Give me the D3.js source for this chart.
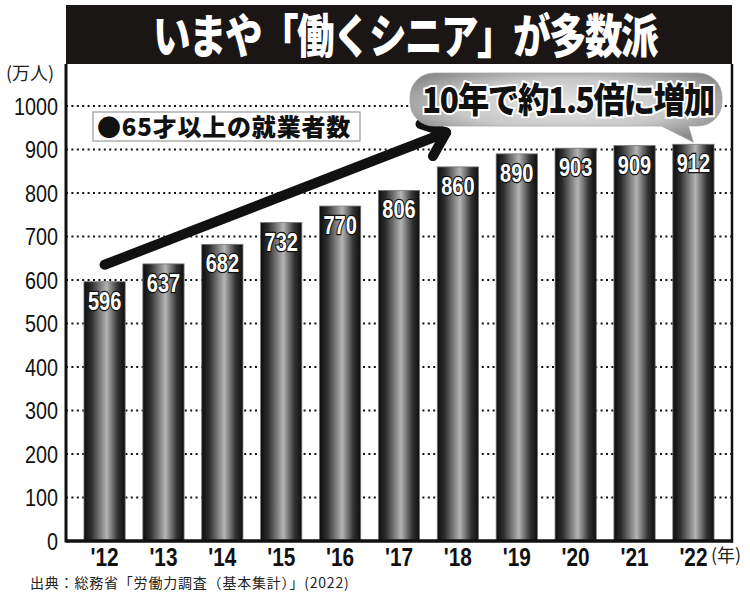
<!DOCTYPE html>
<html><head><meta charset="utf-8">
<script src="https://cdn.jsdelivr.net/npm/d3@7"></script>
<style>
html,body{margin:0;padding:0;background:#fff;}
svg{display:block;}
</style></head>
<body>
<script>
const title = "いまや「働くシニア」が多数派";
const legendLabel = "●65才以上の就業者数";
const calloutText = "10年で約1.5倍に増加";
const unitLabel = "(万人)";
const yearUnit = "(年)";
const sourceText = "出典：総務省「労働力調査（基本集計）」(2022)";
const years = ["'12","'13","'14","'15","'16","'17","'18","'19","'20","'21","'22"];
const workers = [596,637,682,732,770,806,860,890,903,909,912];
const yTicks = [0,100,200,300,400,500,600,700,800,900,1000];

(function(){
const W = 750, H = 594;
const pL = 66, pR = 732, pT = 64, pB = 541;
const numFont = "'Liberation Sans','Arial',sans-serif";
const jpFont = "'Noto Sans CJK JP','Noto Sans',sans-serif";

const svg = d3.select("body").append("svg").attr("width", W).attr("height", H);
const defs = svg.append("defs");
const g1 = defs.append("linearGradient").attr("id","barGrad").attr("x1","0").attr("x2","1").attr("y1","0").attr("y2","0");
[[0,"#0d0d0d"],[0.18,"#2e2e2e"],[0.55,"#b4b4b4"],[0.82,"#333"],[1,"#0d0d0d"]].forEach(([o,c])=>g1.append("stop").attr("offset",o).attr("stop-color",c));
const g2 = defs.append("radialGradient").attr("id","bubGrad").attr("cx","0.5").attr("cy","0.45").attr("r","0.6");
[[0,"#e6e6e6"],[0.6,"#c8c8c8"],[1,"#8a8a8a"]].forEach(([o,c])=>g2.append("stop").attr("offset",o).attr("stop-color",c));

const x = d3.scaleBand().domain(years).range([pL, pR]).paddingInner(0.3).paddingOuter(0.305);
const y = d3.scaleLinear().domain([0,1000]).range([pB, pB - 435]);

// title band
svg.append("rect").attr("x", pL).attr("y", 5).attr("width", pR-pL).attr("height", pT-5).attr("fill","#1a1616");
svg.append("text").attr("transform", `translate(${(pL+pR)/2 + 6},53) scale(0.8,1)`).attr("text-anchor","middle")
  .attr("font-family", jpFont).attr("font-weight", 900).attr("font-size", 47).attr("fill","#fff")
  .attr("letter-spacing", -2).text(title);

// gridlines
svg.append("g").selectAll("line").data(yTicks.filter(d=>d>0)).join("line")
  .attr("x1", pL).attr("x2", pR).attr("y1", d=>y(d)).attr("y2", d=>y(d))
  .attr("stroke","#111").attr("stroke-width",2).attr("stroke-dasharray","2,3.4");

// y axis labels
const yAxis = d3.axisLeft(y).tickValues(yTicks).tickFormat(d3.format("d")).tickSize(0).tickPadding(0);
const ya = svg.append("g").attr("transform",`translate(${pL - 8},0)`).call(yAxis);
ya.select(".domain").remove();
ya.selectAll("text").attr("x", 0).attr("dy","0.36em").attr("transform","scale(0.86,1)")
  .attr("font-family", numFont).attr("font-size", 23).attr("fill","#111");
svg.append("text").attr("x", 6).attr("y", 80).attr("font-family", jpFont).attr("font-size", 18).attr("fill","#222").text(unitLabel);

// bars
svg.append("g").selectAll("rect").data(workers).join("rect")
  .attr("x",(d,i)=>x(years[i])).attr("width", x.bandwidth())
  .attr("y", d=>y(d)).attr("height", d=>pB - y(d))
  .attr("fill","url(#barGrad)").attr("stroke","#777").attr("stroke-width",0.8);

// value labels
svg.append("g").selectAll("text").data(workers).join("text")
  .attr("transform",(d,i)=>`translate(${x(years[i]) + x.bandwidth()/2},${y(d)+28}) scale(0.8,1)`)
  .attr("text-anchor","middle").attr("font-family", numFont).attr("font-weight","bold").attr("font-size",25)
  .attr("fill","#fff").attr("stroke","#111").attr("stroke-width",2.5).attr("paint-order","stroke").text(d=>d);

// frame
svg.append("line").attr("x1",pL).attr("x2",pL).attr("y1",pT).attr("y2",pB+1.5).attr("stroke","#111").attr("stroke-width",3);
svg.append("line").attr("x1",pR).attr("x2",pR).attr("y1",pT).attr("y2",pB+1.5).attr("stroke","#111").attr("stroke-width",2.5);
svg.append("line").attr("x1",pL).attr("x2",pR+1).attr("y1",pB).attr("y2",pB).attr("stroke","#111").attr("stroke-width",3.5);

// x labels
const xAxis = d3.axisBottom(x).tickSize(0).tickPadding(0);
const xa = svg.append("g").attr("transform",`translate(0,${pB})`).call(xAxis);
xa.select(".domain").remove();
xa.selectAll("text").attr("y", 0).attr("dy", 0).attr("transform","translate(0,25) scale(0.8,1)")
  .attr("font-family", numFont).attr("font-weight","bold").attr("font-size",26).attr("fill","#111");
svg.append("text").attr("x", 711).attr("y", 562).attr("font-family", jpFont).attr("font-size", 18).attr("fill","#222").text(yearUnit);

// source
svg.append("text").attr("x", 30).attr("y", 588).attr("font-family", jpFont).attr("font-size", 14).attr("letter-spacing", 0.8).attr("fill","#222").text(sourceText);

// legend
svg.append("rect").attr("x", 93).attr("y", 112).attr("width", 267).attr("height", 29).attr("fill","#fff").attr("stroke","#999").attr("stroke-width",1.2);
svg.append("text").attr("x", 97).attr("y", 136).attr("font-family", jpFont).attr("font-weight",900).attr("font-size",24).attr("fill","#111").attr("letter-spacing",0.8).text(legendLabel);

// arrow (in data terms)
const xc = i => x(years[0]) + x.bandwidth()/2 + i * x.step();
const aStart = [xc(0), y(635)], aEnd = [xc(5.8), y(939)];
svg.append("line").attr("x1",aStart[0]).attr("y1",aStart[1]).attr("x2",aEnd[0]).attr("y2",aEnd[1])
  .attr("stroke","#111").attr("stroke-width",10).attr("stroke-linecap","round");
const ang = Math.atan2(aEnd[1]-aStart[1], aEnd[0]-aStart[0]);
[ang + Math.PI*0.78, ang - Math.PI*0.78].forEach(a=>{
  svg.append("line").attr("x1",aEnd[0]).attr("y1",aEnd[1])
    .attr("x2",aEnd[0]+27*Math.cos(a)).attr("y2",aEnd[1]+27*Math.sin(a))
    .attr("stroke","#111").attr("stroke-width",10).attr("stroke-linecap","round");
});

// callout bubble
const tipX = xc(10), tipY = y(workers[10]) - 2;
const bx0 = 410, bx1 = 722, by0 = 73, by1 = 126, r = 24;
const bubble = d3.path();
bubble.moveTo(bx0+r, by0); bubble.lineTo(bx1-r, by0); bubble.arcTo(bx1, by0, bx1, by0+r, r);
bubble.lineTo(bx1, by1-r); bubble.arcTo(bx1, by1, bx1-r, by1, r);
bubble.lineTo(tipX-5, by1); bubble.lineTo(tipX, tipY); bubble.lineTo(tipX-32, by1);
bubble.lineTo(bx0+r, by1); bubble.arcTo(bx0, by1, bx0, by1-r, r);
bubble.lineTo(bx0, by0+r); bubble.arcTo(bx0, by0, bx0+r, by0, r); bubble.closePath();
svg.append("path").attr("d", bubble.toString()).attr("fill","url(#bubGrad)").attr("stroke","#aaa").attr("stroke-width",0.8);
svg.append("text").attr("transform", `translate(${(bx0+bx1)/2 + 2},113) scale(0.9,1)`).attr("text-anchor","middle")
  .attr("font-family", jpFont).attr("font-weight",900).attr("font-size",35).attr("fill","#111")
  .attr("stroke","#fff").attr("stroke-width",4).attr("paint-order","stroke").attr("letter-spacing",-1.5).text(calloutText);
})();
</script>
</body></html>
